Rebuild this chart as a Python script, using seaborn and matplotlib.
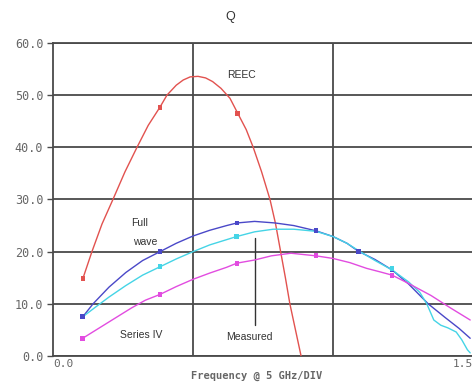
import matplotlib
matplotlib.use("Agg")
import matplotlib.pyplot as plt
import numpy as np
import pandas as pd
import seaborn as sns

# Frequency (GHz) and Q values along each curve
reec_f = [0.107, 0.139, 0.175, 0.214, 0.257, 0.300, 0.340, 0.382, 0.407, 0.440, 0.465, 0.490, 0.518,
          0.545, 0.570, 0.600, 0.632, 0.660, 0.690, 0.715, 0.745, 0.775, 0.795, 0.813, 0.830, 0.846, 0.866, 0.886]
reec_q = [14.9, 20.0, 25.3, 30.0, 35.3, 40.0, 44.2, 47.7, 50.0, 51.9, 52.9, 53.5, 53.6,
          53.3, 52.6, 51.3, 49.4, 46.5, 43.4, 40.0, 35.3, 30.0, 25.3, 20.0, 15.0, 10.0, 5.0, 0.0]

full_f = [0.106, 0.143, 0.200, 0.260, 0.320, 0.382, 0.440, 0.500, 0.560, 0.620, 0.657, 0.720,
          0.793, 0.860, 0.939, 1.000, 1.050, 1.090, 1.150, 1.211, 1.270, 1.340, 1.400, 1.450, 1.490]
full_q = [7.5, 10.0, 13.2, 16.0, 18.3, 20.0, 21.6, 23.0, 24.1, 25.0, 25.5, 25.8,
          25.5, 25.0, 24.0, 22.9, 21.6, 20.1, 18.5, 16.5, 13.8, 10.0, 7.4, 5.3, 3.4]

meas_f = [0.106, 0.150, 0.200, 0.260, 0.320, 0.382, 0.440, 0.500, 0.560, 0.620, 0.656, 0.720,
          0.786, 0.860, 0.939, 1.000, 1.050, 1.100, 1.150, 1.211, 1.270, 1.310, 1.335, 1.360,
          1.385, 1.410, 1.440, 1.460, 1.480, 1.490]
meas_q = [7.5, 9.3, 11.3, 13.5, 15.5, 17.1, 18.6, 20.0, 21.3, 22.3, 22.9, 23.8,
          24.3, 24.3, 23.9, 22.9, 21.6, 19.9, 18.3, 16.5, 14.2, 12.2, 10.0, 6.9,
          5.9, 5.4, 4.6, 3.1, 1.2, 0.6]

series_f = [0.106, 0.160, 0.220, 0.280, 0.330, 0.382, 0.440, 0.500, 0.560, 0.620, 0.657, 0.720,
            0.780, 0.850, 0.939, 1.000, 1.060, 1.120, 1.170, 1.211, 1.270, 1.350, 1.420, 1.490]
series_q = [3.4, 5.2, 7.2, 9.2, 10.7, 11.8, 13.3, 14.7, 15.9, 17.0, 17.8, 18.4,
            19.2, 19.7, 19.2, 18.7, 17.9, 16.8, 16.1, 15.5, 13.9, 11.6, 9.2, 6.9]

# Sampled points shown with markers
reec_mf, reec_mq = [0.107, 0.382, 0.660], [14.9, 47.7, 46.5]
full_mf, full_mq = [0.106, 0.382, 0.657, 0.939, 1.090, 1.211], [7.5, 20.0, 25.5, 24.0, 20.1, 16.5]
meas_mf, meas_mq = [0.382, 0.656, 1.211], [17.1, 22.9, 16.7]
series_mf, series_mq = [0.106, 0.382, 0.657, 0.939, 1.211], [3.4, 11.8, 17.8, 19.2, 15.5]

y_ticks = [0, 10, 20, 30, 40, 50, 60]
y_tick_labels = ["0.0", "10.0", "20.0", "30.0", "40.0", "50.0", "60.0"]

names = ["REEC", "Full wave", "Measured", "Series IV"]
colors = {"REEC": "#e2524f", "Full wave": "#4a48c8", "Measured": "#45d4e6", "Series IV": "#e24ce0"}

curves = pd.concat([
    pd.DataFrame({"f": reec_f, "q": reec_q, "curve": "REEC"}),
    pd.DataFrame({"f": full_f, "q": full_q, "curve": "Full wave"}),
    pd.DataFrame({"f": meas_f, "q": meas_q, "curve": "Measured"}),
    pd.DataFrame({"f": series_f, "q": series_q, "curve": "Series IV"}),
], ignore_index=True)
marks = pd.concat([
    pd.DataFrame({"f": reec_mf, "q": reec_mq, "curve": "REEC"}),
    pd.DataFrame({"f": full_mf, "q": full_mq, "curve": "Full wave"}),
    pd.DataFrame({"f": meas_mf, "q": meas_mq, "curve": "Measured"}),
    pd.DataFrame({"f": series_mf, "q": series_mq, "curve": "Series IV"}),
], ignore_index=True)

sns.set_style("white")
fig = plt.figure(figsize=(4.72, 3.86), dpi=100)
ax = fig.add_axes([0.1123, 0.0777, 0.8898, 0.811])

grid_c = "#4a4a4a"
for y in y_ticks:
    ax.axhline(y, color=grid_c, lw=1.3, zorder=1)
for x in [0.5, 1.0]:
    ax.axvline(x, color=grid_c, lw=1.3, zorder=1)

sns.lineplot(data=curves, x="f", y="q", hue="curve", hue_order=names, palette=colors,
             sort=False, estimator=None, lw=1.0, legend=False, ax=ax, zorder=3)
sns.scatterplot(data=marks, x="f", y="q", hue="curve", hue_order=names, palette=colors,
                marker="s", s=12, linewidth=0, legend=False, ax=ax, zorder=4)

ax.set_xlim(0, 1.5)
ax.set_ylim(0, 60)
for side in ["left", "bottom", "top", "right"]:
    ax.spines[side].set_color(grid_c)
    ax.spines[side].set_linewidth(1.3)

mono = {"family": "DejaVu Sans Mono", "color": "#666666"}
ax.set_yticks(y_ticks)
ax.set_yticklabels(y_tick_labels, fontsize=8.5, **mono)
ax.tick_params(axis="y", length=4, width=1, color=grid_c, pad=3, left=True)
ax.set_xticks([])
ax.set_xlabel("")
ax.set_ylabel("")
ax.text(0.0, -0.6, "0.0", ha="left", va="top", fontsize=8, **mono)
ax.text(1.5, -0.6, "1.5", ha="right", va="top", fontsize=8, **mono)
fig.text(257 / 472, 1 - 376 / 386, "Frequency @ 5 GHz/DIV", ha="center", va="center",
         fontsize=7.5, fontweight="bold", **mono)
fig.text(230 / 472, 1 - 17 / 386, "Q", ha="center", va="center", fontsize=9,
         family="Liberation Sans", color="#333333")

lab = {"family": "Liberation Sans", "color": "#333333", "fontsize": 7.5}
ax.text(0.675, 53.8, "REEC", ha="center", va="center", **lab)
ax.text(0.28, 25.5, "Full", ha="left", va="center", **lab)
ax.text(0.285, 21.8, "wave", ha="left", va="center", **lab)
ax.text(0.316, 4.0, "Series IV", ha="center", va="center", **lab)
ax.text(0.70, 3.6, "Measured", ha="center", va="center", **lab)
ax.plot([0.721, 0.721], [5.9, 22.6], color="#333333", lw=1.0, zorder=2)

fig.savefig("out.png", dpi=100)
